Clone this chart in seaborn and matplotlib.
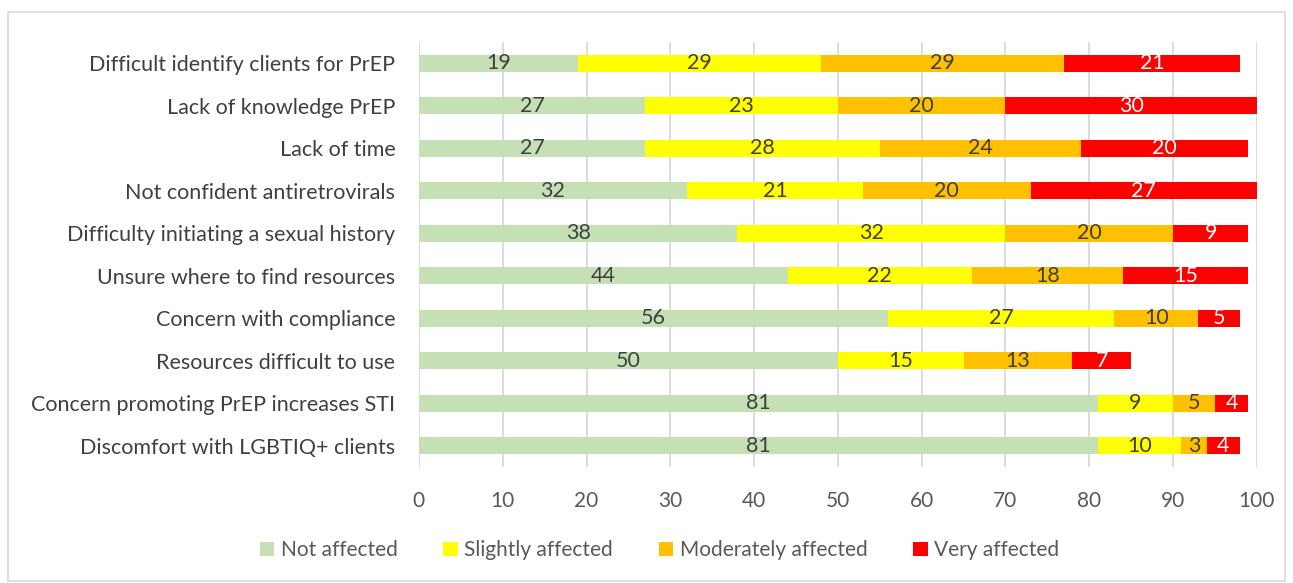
import numpy as np
import pandas as pd
import matplotlib
matplotlib.use("Agg")
import matplotlib.pyplot as plt
import seaborn as sns
from matplotlib.patches import Rectangle, Patch

categories = [
    "Difficult identify clients for PrEP",
    "Lack of knowledge PrEP",
    "Lack of time",
    "Not confident antiretrovirals",
    "Difficulty initiating a sexual history",
    "Unsure where to find resources",
    "Concern with compliance",
    "Resources difficult to use",
    "Concern promoting PrEP increases STI",
    "Discomfort with LGBTIQ+ clients",
]
not_affected = [19, 27, 27, 32, 38, 44, 56, 50, 81, 81]
slightly_affected = [29, 23, 28, 21, 32, 22, 27, 15, 9, 10]
moderately_affected = [29, 20, 24, 20, 20, 18, 10, 13, 5, 3]
very_affected = [21, 30, 20, 27, 9, 15, 5, 7, 4, 4]
series_names = ["Not affected", "Slightly affected", "Moderately affected", "Very affected"]
colors = ["#C5E0B4", "#FFFF00", "#FFC000", "#FF0000"]
label_colors = ["#404040", "#404040", "#404040", "#FFFFFF"]

sns.set_theme(style="white")
plt.rcParams["font.family"] = ["Lato", "DejaVu Sans"]

series = [not_affected, slightly_affected, moderately_affected, very_affected]
cum = np.cumsum(np.array(series), axis=0)

fig = plt.figure(figsize=(12.93, 5.83), dpi=100)
ax = fig.add_axes([0.324, 0.199, 0.648, 0.729])

# draw cumulative bars from largest to smallest so they stack visually
for i in range(len(series) - 1, -1, -1):
    df = pd.DataFrame({"category": categories, "value": cum[i]})
    sns.barplot(data=df, x="value", y="category", orient="h", color=colors[i],
                saturation=1, width=0.4, ax=ax, edgecolor="none", linewidth=0)

# value labels
for i, s in enumerate(series):
    starts = cum[i] - np.array(s)
    for j, v in enumerate(s):
        ax.text(starts[j] + v / 2, j, str(v), ha="center", va="center",
                fontsize=15.5, color=label_colors[i])

ax.set_xlim(0, 100)
ax.set_ylim(9.5, -0.5)
ax.set_xticks(np.arange(0, 101, 10))
ax.xaxis.grid(True, color="#D9D9D9", linewidth=1.3)
ax.set_axisbelow(True)
for sp in ax.spines.values():
    sp.set_visible(False)
ax.set_xlabel("")
ax.set_ylabel("")
ax.tick_params(axis="x", labelsize=15, labelcolor="#595959", length=0, pad=17)
ax.tick_params(axis="y", labelsize=15.5, labelcolor="#404040", length=0, pad=17)

handles = [Patch(facecolor=c, edgecolor="none") for c in colors]
fig.legend(handles, series_names, loc="center", bbox_to_anchor=(0.51, 0.056),
           ncol=4, frameon=False, fontsize=15, labelcolor="#595959",
           handlelength=0.7, handleheight=0.7, handletextpad=0.3, columnspacing=2.2)

fig.patches.append(Rectangle((8 / 1293, 0.004), 1 - 16 / 1293, 1 - 12 / 583 - 0.004,
                             transform=fig.transFigure, fill=False,
                             edgecolor="#D9D9D9", linewidth=1.2))

fig.savefig("out.png", dpi=100, facecolor="white")
